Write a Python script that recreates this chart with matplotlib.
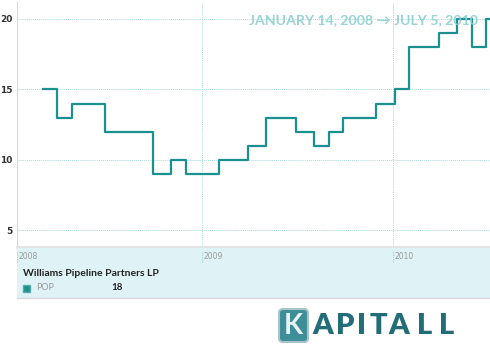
import matplotlib
matplotlib.use('Agg')
import matplotlib.pyplot as plt
from matplotlib.patches import FancyBboxPatch
import datetime as dt

# weekly closing steps for POP
dates = ['2008-03-03', '2008-03-31', '2008-04-28', '2008-06-30', '2008-09-29',
         '2008-11-03', '2008-12-01', '2009-02-02', '2009-03-30', '2009-05-04',
         '2009-06-29', '2009-08-03', '2009-08-31', '2009-09-28', '2009-11-30',
         '2010-01-04', '2010-02-01', '2010-03-29', '2010-05-03', '2010-05-31',
         '2010-06-28', '2010-07-05']
values = [15, 13, 14, 12, 9, 10, 9, 10, 11, 13, 12, 11, 12, 13, 14, 15,
          18, 19, 20, 18, 20, 20]
yticks = [5, 10, 15, 20]
years = ['2008', '2009', '2010']
company = 'Williams Pipeline Partners LP'
ticker = 'POP'
last_value = '18'
title = 'JANUARY 14, 2008 \u2192 JULY 5, 2010'

start = dt.datetime(2008, 1, 14)
end = dt.datetime(2010, 7, 5)
x = [dt.datetime.strptime(d, '%Y-%m-%d') for d in dates]

teal = '#1a9090'
W, H = 490, 345
fig = plt.figure(figsize=(W / 100, H / 100), dpi=100)
fig.patch.set_facecolor('white')

def fbox(x0, y0, x1, y1):
    return [x0 / W, 1 - y1 / H, (x1 - x0) / W, (y1 - y0) / H]

ax = fig.add_axes(fbox(17, 2, 490, 247))
ax.step(x, values, where='post', color=teal, lw=1.6)
ax.set_xlim(start, end)
ax.set_ylim(3.83, 21.2)
ax.set_yticks(yticks)
ax.set_yticklabels([str(v) for v in yticks], fontsize=6.5, fontweight='bold', color='#333333')
year_dates = [dt.datetime(int(y), 1, 1) for y in years[1:]]
ax.set_xticks(year_dates)
ax.set_xticklabels([])
ax.tick_params(length=0, pad=3)
ax.grid(True, color='#a9dada', ls=(0, (1, 1)), lw=0.7)
for s in ['top', 'right']:
    ax.spines[s].set_visible(False)
ax.spines['left'].set_color('#c8dede')
ax.spines['bottom'].set_color('#e2e2e2')
ax.spines['bottom'].set_linewidth(2)
ax.text(0.975, 0.925, title, transform=ax.transAxes, ha='right', va='center',
        fontsize=10.2, fontweight='bold', color='#8fcfcf', alpha=0.9,
        family=['Lato', 'DejaVu Sans'])

# info band
band = fig.add_axes(fbox(17, 248, 490, 298), sharex=ax)
band.set_facecolor('#dff2f6')
band.set_ylim(0, 1)
for s in ['top', 'left', 'right']:
    band.spines[s].set_visible(False)
band.spines['bottom'].set_color('#d8d8d8')
band.spines['bottom'].set_linewidth(1)
band.tick_params(left=False, bottom=False, labelleft=False, labelbottom=False)
for i, y in enumerate(years):
    d = start if i == 0 else dt.datetime(int(y), 1, 1)
    band.plot([d, d], [0.72, 0.95], color='#9fd3d3', ls=(0, (1, 1)), lw=0.8)
    band.text(d + dt.timedelta(days=3), 0.83, y, fontsize=5.5, color='#9a9a9a',
              va='center', ha='left')
band.text(0.012, 0.48, company, transform=band.transAxes, fontsize=7.5,
          fontweight='bold', color='#222222', va='center', family=['Lato', 'DejaVu Sans'])
band.add_patch(plt.Rectangle((0.012, 0.13), 0.015, 0.14, transform=band.transAxes,
                             facecolor=teal, edgecolor='#5aa'))
band.text(0.04, 0.2, ticker, transform=band.transAxes, fontsize=6.5, color='#999999',
          va='center', family=['Lato', 'DejaVu Sans'])
band.text(0.2, 0.2, last_value, transform=band.transAxes, fontsize=7,
          fontweight='bold', color='#222222', va='center', family=['Lato', 'DejaVu Sans'])

# logo
logo = fig.add_axes([0, 0, 1, 1])
logo.set_xlim(0, W)
logo.set_ylim(H, 0)
logo.axis('off')
logo.add_patch(FancyBboxPatch((279, 309), 29, 33, boxstyle='round,pad=0,rounding_size=4',
                              facecolor='#3d8e98', edgecolor='#a9c4c6', lw=1.5))
logo.text(293.5, 326, 'K', ha='center', va='center', fontsize=20, fontweight='bold',
          color='#e6f4f4', family=['Lato', 'DejaVu Sans'])
for ch, cx in zip('APITALL', [322.5, 345.5, 361.5, 378.5, 399, 424.5, 446.5]):
    logo.text(cx, 326, ch, ha='center', va='center', fontsize=21, fontweight='heavy',
              color='#236d78', family=['Lato', 'DejaVu Sans'])

fig.savefig('out.png', dpi=100)
